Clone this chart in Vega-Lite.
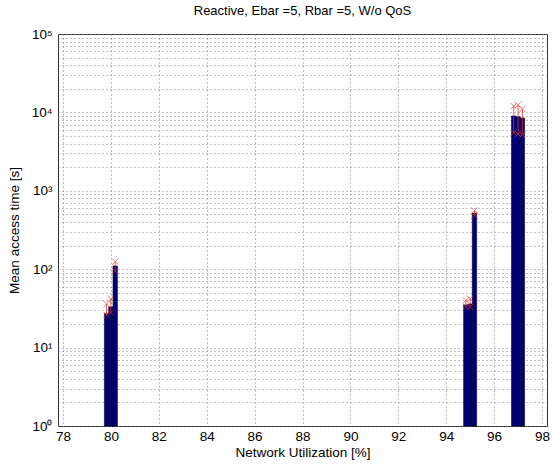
{
  "$schema": "https://vega.github.io/schema/vega-lite/v6.json",
  "autosize": "none",
  "width": 489,
  "height": 392,
  "padding": {"left": 58, "top": 34, "right": 6, "bottom": 40},
  "background": "white",
  "title": {"text": "Reactive, Ebar =5, Rbar =5, W/o QoS", "font": "Liberation Sans", "fontSize": 13, "fontWeight": "normal", "color": "#000", "offset": 9},
  "config": {
    "view": {"stroke": "#333", "strokeWidth": 1},
    "axis": {"labelFont": "Liberation Sans", "titleFont": "Liberation Sans", "labelFontSize": 13.5, "titleFontSize": 13.5, "titleFontWeight": "normal", "labelColor": "#000", "titleColor": "#000", "domain": false, "ticks": false, "gridColor": "#777", "gridDash": [1, 3], "gridOpacity": 0.9}
  },
  "data": {"values": [
    {"u": 79.82, "t": 27, "lo": 26, "hi": 36},
    {"u": 80.0, "t": 33, "lo": 28, "hi": 42},
    {"u": 80.18, "t": 110, "lo": 95, "hi": 125},
    {"u": 94.82, "t": 35, "lo": 33, "hi": 40},
    {"u": 95.0, "t": 36, "lo": 33, "hi": 42},
    {"u": 95.18, "t": 520, "lo": 480, "hi": 560},
    {"u": 96.82, "t": 9000, "lo": 5500, "hi": 12000},
    {"u": 97.0, "t": 8800, "lo": 5300, "hi": 12500},
    {"u": 97.18, "t": 8500, "lo": 5200, "hi": 11000}
  ]},
  "layer": [
    {
      "mark": {"type": "bar", "size": 4.4, "color": "#00007A", "stroke": "#000022", "strokeWidth": 0.6},
      "encoding": {
        "x": {"field": "u", "type": "quantitative", "scale": {"domain": [78, 98], "nice": false, "zero": false},
          "axis": {"values": [78, 80, 82, 84, 86, 88, 90, 92, 94, 96, 98], "title": "Network Utilization [%]", "grid": true, "labelPadding": 3, "titlePadding": 3}},
        "y": {"field": "t", "type": "quantitative", "scale": {"type": "log", "domain": [1, 100000], "nice": false},
          "axis": {"values": [1,2,3,4,5,6,7,8,9,10,20,30,40,50,60,70,80,90,100,200,300,400,500,600,700,800,900,1000,2000,3000,4000,5000,6000,7000,8000,9000,10000,20000,30000,40000,50000,60000,70000,80000,90000,100000],
            "labelExpr": "datum.value == 1 ? '10⁰' : datum.value == 10 ? '10¹' : datum.value == 100 ? '10²' : datum.value == 1000 ? '10³' : datum.value == 10000 ? '10⁴' : datum.value == 100000 ? '10⁵' : ''",
            "title": "Mean access time [s]", "grid": true, "labelPadding": 6, "titlePadding": 10}},
        "y2": {"datum": 1}
      }
    },
    {
      "mark": {"type": "rule", "color": "#e03030", "strokeWidth": 0.8},
      "encoding": {
        "x": {"field": "u", "type": "quantitative"},
        "y": {"field": "lo", "type": "quantitative"},
        "y2": {"field": "hi"}
      }
    },
    {
      "mark": {"type": "point", "shape": "M-1,-1L1,1M-1,1L1,-1", "size": 40, "filled": false, "color": "#e03030", "strokeWidth": 0.9},
      "encoding": {
        "x": {"field": "u", "type": "quantitative"},
        "y": {"field": "hi", "type": "quantitative"}
      }
    },
    {
      "mark": {"type": "point", "shape": "M-1,-1L1,1M-1,1L1,-1", "size": 40, "filled": false, "color": "#e03030", "strokeWidth": 0.9},
      "encoding": {
        "x": {"field": "u", "type": "quantitative"},
        "y": {"field": "lo", "type": "quantitative"}
      }
    }
  ]
}
